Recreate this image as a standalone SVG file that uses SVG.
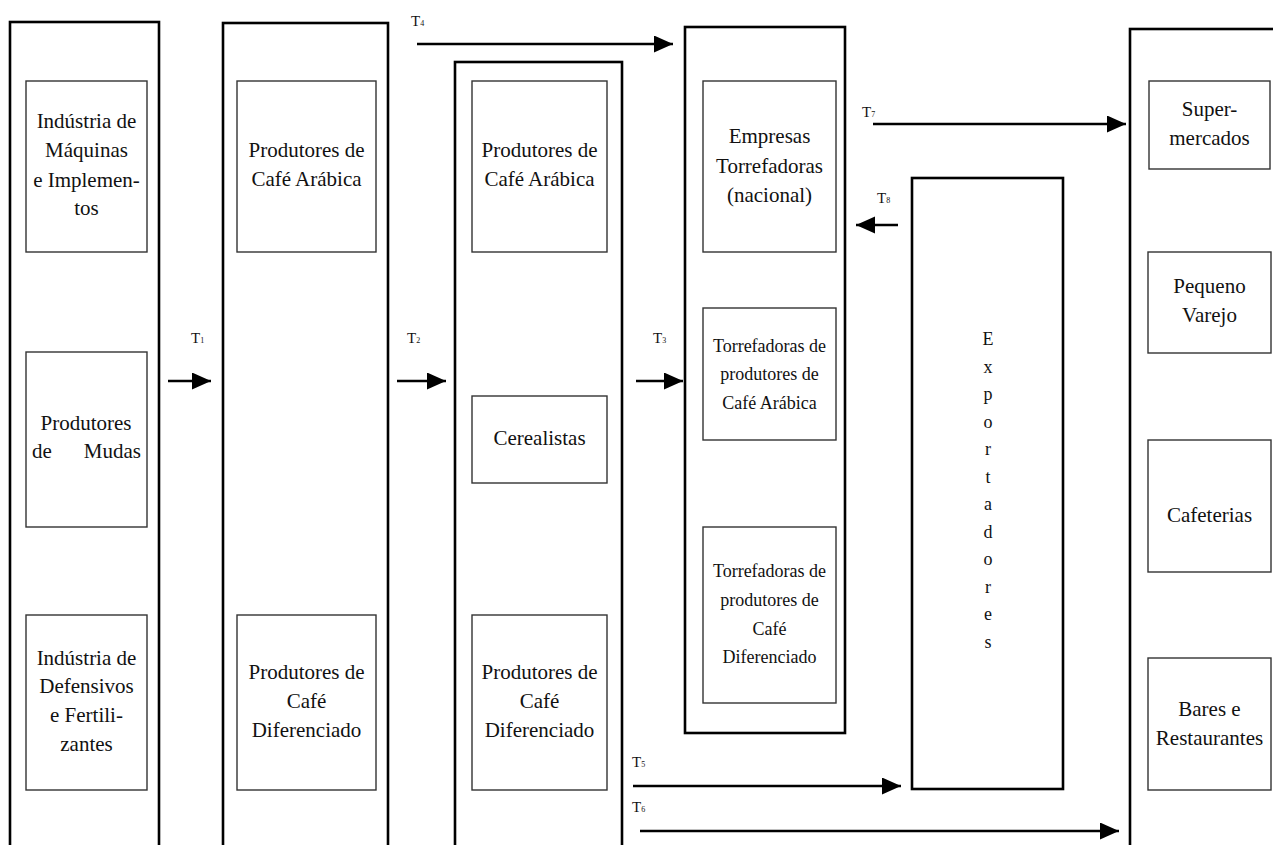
<svg xmlns="http://www.w3.org/2000/svg" width="1273" height="845" viewBox="0 0 1273 845" font-family="'Liberation Serif', 'Times New Roman', serif">
<style>
.outer{fill:none;stroke:#000;stroke-width:2.6}
.inner{fill:none;stroke:#333;stroke-width:1.4}
.tx{font-size:21px;fill:#111;text-anchor:middle}
.sm{font-size:18px}
.tl{font-size:15px;fill:#111}
.sub{font-size:8px}
.arr{stroke:#000;stroke-width:2.6;fill:none;marker-end:url(#ah)}
</style>
<defs>
<marker id="ah" markerUnits="userSpaceOnUse" markerWidth="21" markerHeight="19" refX="19" refY="8.5" orient="auto">
<path d="M0,0 L19,8.5 L0,17 z" fill="#000"/>
</marker>
</defs>
<rect width="1273" height="845" fill="#fff"/>

<g id="col1">
<rect class="outer" x="10" y="22" width="149" height="840"/>
<g id="n-maquinas"><rect class="inner" x="26" y="81" width="121" height="171"/>
<text class="tx" font-family="Liberation Serif, serif"><tspan x="86.5" y="128">Indústria de</tspan><tspan x="86.5" y="157">Máquinas</tspan><tspan x="86.5" y="187">e Implemen-</tspan><tspan x="86.5" y="215">tos</tspan></text></g>
<g id="n-mudas"><rect class="inner" x="26" y="352" width="121" height="175"/>
<text class="tx" font-family="Liberation Serif, serif"><tspan x="86" y="430">Produtores</tspan></text>
<text class="tx" font-family="Liberation Serif, serif"><tspan x="32" y="458" text-anchor="start">de</tspan><tspan x="141" y="458" text-anchor="end">Mudas</tspan></text></g>
<g id="n-defensivos"><rect class="inner" x="26" y="615" width="121" height="175"/>
<text class="tx" font-family="Liberation Serif, serif"><tspan x="86.5" y="665">Indústria de</tspan><tspan x="86.5" y="693">Defensivos</tspan><tspan x="86.5" y="722">e Fertili-</tspan><tspan x="86.5" y="751">zantes</tspan></text></g>
</g>

<g id="col2">
<rect class="outer" x="223" y="23" width="165" height="840"/>
<g id="n-prod-arabica"><rect class="inner" x="237" y="81" width="139" height="171"/>
<text class="tx" font-family="Liberation Serif, serif"><tspan x="306.5" y="157">Produtores de</tspan><tspan x="306.5" y="186">Café Arábica</tspan></text></g>
<g id="n-prod-dif"><rect class="inner" x="237" y="615" width="139" height="175"/>
<text class="tx" font-family="Liberation Serif, serif"><tspan x="306.5" y="679">Produtores de</tspan><tspan x="306.5" y="708">Café</tspan><tspan x="306.5" y="737">Diferenciado</tspan></text></g>
</g>

<g id="col3">
<rect class="outer" x="455" y="62" width="167" height="800"/>
<g id="n-prod-arabica2"><rect class="inner" x="472" y="81" width="135" height="171"/>
<text class="tx" font-family="Liberation Serif, serif"><tspan x="539.5" y="157">Produtores de</tspan><tspan x="539.5" y="186">Café Arábica</tspan></text></g>
<g id="n-cerealistas"><rect class="inner" x="472" y="396" width="135" height="87"/>
<text class="tx" font-family="Liberation Serif, serif"><tspan x="539.5" y="445">Cerealistas</tspan></text></g>
<g id="n-prod-dif2"><rect class="inner" x="472" y="615" width="135" height="175"/>
<text class="tx" font-family="Liberation Serif, serif"><tspan x="539.5" y="679">Produtores de</tspan><tspan x="539.5" y="708">Café</tspan><tspan x="539.5" y="737">Diferenciado</tspan></text></g>
</g>

<g id="col4">
<rect class="outer" x="685" y="27" width="160" height="706"/>
<g id="n-empresas"><rect class="inner" x="703" y="81" width="133" height="171"/>
<text class="tx" font-family="Liberation Serif, serif"><tspan x="769.5" y="143">Empresas</tspan><tspan x="769.5" y="173">Torrefadoras</tspan><tspan x="769.5" y="202">(nacional)</tspan></text></g>
<g id="n-torr-arabica"><rect class="inner" x="703" y="308" width="133" height="132"/>
<text class="tx sm" font-family="Liberation Serif, serif"><tspan x="769.5" y="352">Torrefadoras de</tspan><tspan x="769.5" y="380">produtores de</tspan><tspan x="769.5" y="409">Café Arábica</tspan></text></g>
<g id="n-torr-dif"><rect class="inner" x="703" y="527" width="133" height="176"/>
<text class="tx sm" font-family="Liberation Serif, serif"><tspan x="769.5" y="577">Torrefadoras de</tspan><tspan x="769.5" y="606">produtores de</tspan><tspan x="769.5" y="635">Café</tspan><tspan x="769.5" y="663">Diferenciado</tspan></text></g>
</g>

<g id="n-exportadores">
<rect class="outer" x="912" y="178" width="151" height="611"/>
<text class="tx sm" font-family="Liberation Serif, serif"><tspan x="988" y="345">E</tspan><tspan x="988" y="373">x</tspan><tspan x="988" y="400">p</tspan><tspan x="988" y="428">o</tspan><tspan x="988" y="455">r</tspan><tspan x="988" y="483">t</tspan><tspan x="988" y="510">a</tspan><tspan x="988" y="538">d</tspan><tspan x="988" y="565">o</tspan><tspan x="988" y="593">r</tspan><tspan x="988" y="620">e</tspan><tspan x="988" y="648">s</tspan></text>
</g>

<g id="col5">
<rect class="outer" x="1130" y="29" width="200" height="840"/>
<g id="n-super"><rect class="inner" x="1149" y="81" width="121" height="88"/>
<text class="tx" font-family="Liberation Serif, serif"><tspan x="1209.5" y="116">Super-</tspan><tspan x="1209.5" y="145">mercados</tspan></text></g>
<g id="n-varejo"><rect class="inner" x="1148" y="252" width="123" height="101"/>
<text class="tx" font-family="Liberation Serif, serif"><tspan x="1209.5" y="293">Pequeno</tspan><tspan x="1209.5" y="322">Varejo</tspan></text></g>
<g id="n-cafeterias"><rect class="inner" x="1148" y="440" width="123" height="132"/>
<text class="tx" font-family="Liberation Serif, serif"><tspan x="1209.5" y="522">Cafeterias</tspan></text></g>
<g id="n-bares"><rect class="inner" x="1148" y="658" width="123" height="132"/>
<text class="tx" font-family="Liberation Serif, serif"><tspan x="1209.5" y="716">Bares e</tspan><tspan x="1209.5" y="745">Restaurantes</tspan></text></g>
</g>

<g id="connectors">
<line class="arr" x1="168" y1="381" x2="211" y2="381"/>
<line class="arr" x1="397" y1="381" x2="446" y2="381"/>
<line class="arr" x1="636" y1="381" x2="683" y2="381"/>
<line class="arr" x1="417" y1="44" x2="673" y2="44"/>
<line class="arr" x1="873" y1="124" x2="1126" y2="124"/>
<line class="arr" x1="898" y1="225" x2="856" y2="225"/>
<line class="arr" x1="633" y1="786" x2="901" y2="786"/>
<line class="arr" x1="640" y1="831" x2="1119" y2="831"/>
<text class="tl" font-family="Liberation Serif, serif" x="191" y="343">T<tspan class="sub">1</tspan></text>
<text class="tl" font-family="Liberation Serif, serif" x="407" y="343">T<tspan class="sub">2</tspan></text>
<text class="tl" font-family="Liberation Serif, serif" x="653" y="343">T<tspan class="sub">3</tspan></text>
<text class="tl" font-family="Liberation Serif, serif" x="411" y="26">T<tspan class="sub">4</tspan></text>
<text class="tl" font-family="Liberation Serif, serif" x="632" y="767">T<tspan class="sub">5</tspan></text>
<text class="tl" font-family="Liberation Serif, serif" x="632" y="812">T<tspan class="sub">6</tspan></text>
<text class="tl" font-family="Liberation Serif, serif" x="862" y="117">T<tspan class="sub">7</tspan></text>
<text class="tl" font-family="Liberation Serif, serif" x="877" y="203">T<tspan class="sub">8</tspan></text>
</g>
</svg>
